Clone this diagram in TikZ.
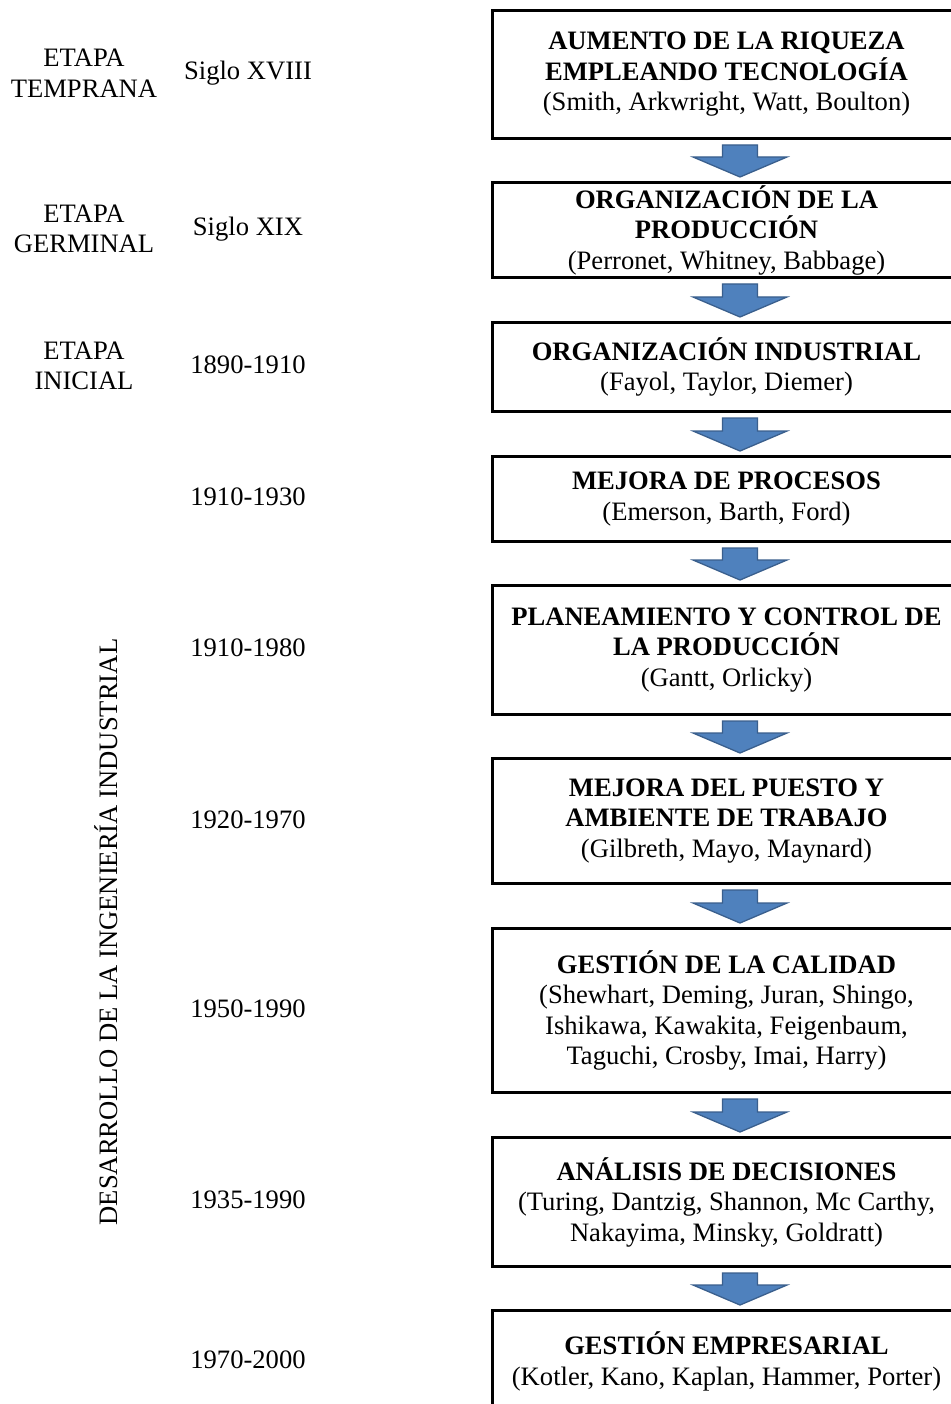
\documentclass[tikz,border=0pt]{standalone}
\usepackage{fontspec}
\setmainfont{Liberation Serif}
\usetikzlibrary{calc}
\definecolor{arrowfill}{HTML}{4F81BD}
\definecolor{arrowline}{HTML}{3A5F8D}
\tikzset{
  x=1pt, y=-1pt,
  txt/.style={font=\fontsize{26.6}{30.5}\selectfont, align=center, inner sep=0pt},
  box/.style={draw=black, line width=3pt, minimum width=468pt, anchor=north west, align=center,
              font=\fontsize{26.6}{30.5}\selectfont, inner sep=0pt},
  blockarrow/.style={fill=arrowfill, draw=arrowline, line width=1.3pt, line join=miter}
}
\newcommand\mybarrow[2]{%
  \path[blockarrow] let \p1=(#1.south), \p2=(#2.north) in
    (722.5pt,\y1-5pt) -- (757.5pt,\y1-5pt) -- (757.5pt,\y2+24pt) -- (787pt,\y2+24pt)
    -- (740pt,\y2+4pt) -- (693pt,\y2+24pt) -- (722.5pt,\y2+24pt) -- cycle;}
\begin{document}
\begin{tikzpicture}
\useasboundingbox[fill=white] (0,0) rectangle (950,1404);

% left column
\node[txt] (e1) at (84,73) {ETAPA\\TEMPRANA};
\node[txt] (e2) at (84,229) {ETAPA\\GERMINAL};
\node[txt] (e3) at (84,366) {ETAPA\\INICIAL};
\node[txt, rotate=90] (dev) at (106,932) {DESARROLLO DE LA INGENIERÍA INDUSTRIAL};

% dates
\node[txt] (d1) at (248,73) {Siglo XVIII};
\node[txt] (d2) at (248,229) {Siglo XIX};
\node[txt] (d3) at (248,365) {1890-1910};
\node[txt] (d4) at (248,497) {1910-1930};
\node[txt] (d5) at (248,648) {1910-1980};
\node[txt] (d6) at (248,820) {1920-1970};
\node[txt] (d7) at (248,1009) {1950-1990};
\node[txt] (d8) at (248,1200) {1935-1990};
\node[txt] (d9) at (248,1360) {1970-2000};

% boxes
\node[box, minimum height=128pt] (b1) at (491,9)
  {\textbf{AUMENTO DE LA RIQUEZA}\\\textbf{EMPLEANDO TECNOLOGÍA}\\(Smith, Arkwright, Watt, Boulton)};
\node[box, minimum height=95pt] (b2) at (491,181)
  {\textbf{ORGANIZACIÓN DE LA}\\\textbf{PRODUCCIÓN}\\(Perronet, Whitney, Babbage)};
\node[box, minimum height=89pt] (b3) at (491,321)
  {\textbf{ORGANIZACIÓN INDUSTRIAL}\\(Fayol, Taylor, Diemer)};
\node[box, minimum height=85pt] (b4) at (491,455)
  {\textbf{MEJORA DE PROCESOS}\\(Emerson, Barth, Ford)};
\node[box, minimum height=129pt] (b5) at (491,584)
  {\textbf{PLANEAMIENTO Y CONTROL DE}\\\textbf{LA PRODUCCIÓN}\\(Gantt, Orlicky)};
\node[box, minimum height=125pt] (b6) at (491,757)
  {\textbf{MEJORA DEL PUESTO Y}\\\textbf{AMBIENTE DE TRABAJO}\\(Gilbreth, Mayo, Maynard)};
\node[box, minimum height=164pt] (b7) at (491,927)
  {\textbf{GESTIÓN DE LA CALIDAD}\\(Shewhart, Deming, Juran, Shingo,\\Ishikawa, Kawakita, Feigenbaum,\\Taguchi, Crosby, Imai, Harry)};
\node[box, minimum height=129pt] (b8) at (491,1136)
  {\textbf{ANÁLISIS DE DECISIONES}\\(Turing, Dantzig, Shannon, Mc Carthy,\\Nakayima, Minsky, Goldratt)};
\node[box, minimum height=102pt] (b9) at (491,1309)
  {\textbf{GESTIÓN EMPRESARIAL}\\(Kotler, Kano, Kaplan, Hammer, Porter)};

% arrows
\mybarrow{b1}{b2}
\mybarrow{b2}{b3}
\mybarrow{b3}{b4}
\mybarrow{b4}{b5}
\mybarrow{b5}{b6}
\mybarrow{b6}{b7}
\mybarrow{b7}{b8}
\mybarrow{b8}{b9}
\end{tikzpicture}
\end{document}
